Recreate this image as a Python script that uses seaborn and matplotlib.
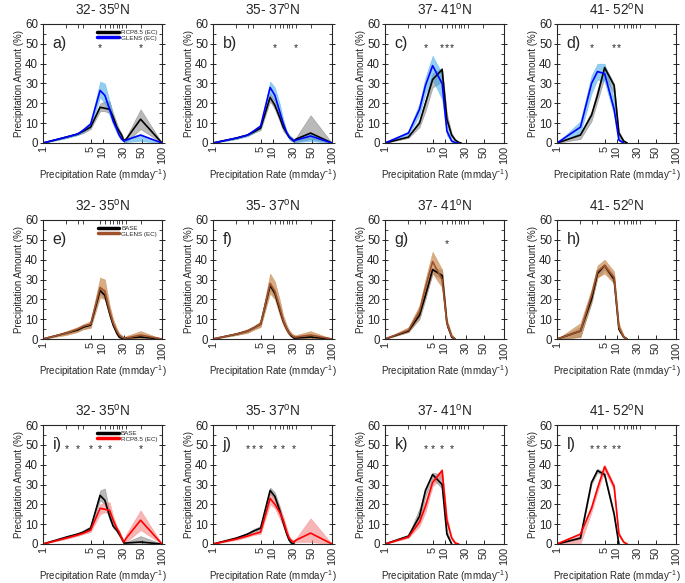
import numpy as np
import pandas as pd
import matplotlib
matplotlib.use("Agg")
import matplotlib.pyplot as plt
import seaborn as sns
from matplotlib.lines import Line2D
from matplotlib.ticker import FixedLocator, MultipleLocator

N = np.nan

# precipitation-rate bins (mm/day)
RATE = [1, 2, 3, 4, 5, 9, 11, 14, 17, 21, 24, 27, 30, 32, 48, 100]
# the x axis is not a true log axis: fraction of axis width for each bin
AXIS_POS = [0, 0.197, 0.29, 0.34, 0.40, 0.48, 0.52, 0.56, 0.59, 0.62, 0.64, 0.66, 0.68, 0.70, 0.82, 1.0]
XTICKS = [1, 5, 10, 30, 50, 100]
LATS = ["32- 35$^{\\rm o}$N", "35- 37$^{\\rm o}$N", "37- 41$^{\\rm o}$N", "41- 52$^{\\rm o}$N"]
LETTERS = list("abcdefghijkl")

# ==== row 1: RCP8.5 (EC) vs GLENS (EC) ====
a_blk    = [0, 3.0, 4.5, 6.0, 8.0, 18.0, 17.5, 17.0, 13.0, 8.0, 6.0, 4.0, 1.0, 2.0, 12.0, 0]
a_blk_lo = [0, 2.5, 4.0, 5.0, 7.0, 16.0, 16.0, 15.0, 11.0, 6.0, 4.0, 3.0, 0.5, 0.5, 7.0, 0]
a_blk_hi = [0, 3.5, 5.0, 7.0, 9.0, 20.0, 21.0, 21.0, 15.0, 10.0, 7.0, 5.0, 2.0, 3.0, 17.0, 0]
a_col    = [0, 3.0, 4.5, 6.5, 9.5, 26.5, 24.0, 17.0, 11.0, 7.0, 4.0, 2.0, 1.0, 1.5, 4.0, 0]
a_col_lo = [0, 2.5, 4.0, 5.5, 8.0, 23.0, 20.0, 14.0, 9.0, 5.0, 3.0, 1.5, 0.5, 0.5, 1.0, 0]
a_col_hi = [0, 3.5, 5.0, 7.5, 10.5, 31.0, 30.0, 21.0, 13.0, 8.5, 5.0, 3.0, 1.5, 2.5, 4.5, 0]

b_blk    = [0, 2.5, 4.0, 5.5, 7.5, 23.0, 19.0, 13.0, 8.0, 5.0, 3.0, 2.0, 1.0, 2.0, 5.0, 0]
b_blk_lo = [0, 2.0, 3.5, 5.0, 6.5, 21.0, 17.0, 11.0, 6.0, 4.0, 2.0, 1.0, 0.5, 0.5, 2.0, 0]
b_blk_hi = [0, 3.0, 4.5, 6.0, 8.5, 25.0, 21.0, 15.0, 10.0, 6.0, 4.0, 3.0, 2.0, 3.0, 14.0, 0]
b_col    = [0, 2.5, 4.0, 6.0, 8.5, 28.0, 24.0, 16.0, 10.0, 5.0, 3.0, 2.0, 1.0, 1.5, 3.5, 0]
b_col_lo = [0, 2.0, 3.5, 5.0, 7.5, 25.0, 21.0, 13.0, 8.0, 4.0, 2.0, 1.0, 0.5, 0.5, 1.0, 0]
b_col_hi = [0, 3.0, 4.5, 6.5, 9.5, 31.0, 28.0, 20.0, 12.0, 6.0, 4.0, 3.0, 1.5, 2.0, 5.0, 0]

c_blk    = [0, 3.0, 10.0, 20.0, 32.0, 37.0, 12.0, 4.0, 1.5, 0.3, 0, N, N, N, N, N]
c_blk_lo = [0, 2.5, 8.0, 16.0, 28.0, 31.0, 10.0, 3.0, 1.0, 0, 0, N, N, N, N, N]
c_blk_hi = [0, 3.5, 12.0, 22.0, 35.0, 38.0, 15.0, 5.0, 2.0, 0.5, 0, N, N, N, N, N]
c_col    = [0, 5.0, 17.0, 29.0, 39.0, 30.0, 6.0, 1.0, 0.2, 0, N, N, N, N, N, N]
c_col_lo = [0, 4.0, 14.0, 25.0, 32.0, 22.0, 4.0, 0.5, 0, 0, N, N, N, N, N, N]
c_col_hi = [0, 6.0, 20.0, 33.0, 44.0, 35.0, 9.0, 2.0, 0.5, 0, N, N, N, N, N, N]

d_blk    = [0, 4.0, 14.0, 24.0, 38.0, 29.0, 5.0, 1.0, 0, N, N, N, N, N, N, N]
d_blk_lo = [0, 2.0, 11.0, 21.0, 33.0, 25.0, 3.0, 0.5, 0, N, N, N, N, N, N, N]
d_blk_hi = [0, 5.0, 16.0, 27.0, 39.0, 30.0, 6.0, 1.5, 0, N, N, N, N, N, N, N]
d_col    = [0, 8.0, 30.0, 36.0, 35.0, 17.0, 1.5, 0, N, N, N, N, N, N, N, N]
d_col_lo = [0, 5.0, 25.0, 32.0, 31.0, 14.0, 1.0, 0, N, N, N, N, N, N, N, N]
d_col_hi = [0, 11.0, 34.0, 40.0, 40.0, 22.0, 3.0, 0, N, N, N, N, N, N, N, N]

# ==== row 2: BASE vs GLENS (EC) ====
e_blk    = [0, 3.0, 4.5, 6.0, 7.0, 24.5, 22.0, 13.0, 7.0, 3.0, 1.0, 0.5, 0, 0.5, 1.0, 0]
e_blk_lo = [0, 2.5, 4.0, 5.0, 6.0, 23.0, 20.0, 11.0, 6.0, 2.0, 0.5, 0, 0, 0, 0, 0]
e_blk_hi = [0, 3.5, 5.0, 7.0, 8.0, 26.0, 25.0, 15.0, 8.0, 4.0, 2.0, 1.0, 0.5, 1.0, 1.5, 0]
e_col    = [0, 3.0, 5.0, 6.5, 7.5, 26.0, 24.0, 14.0, 8.0, 4.0, 2.0, 1.0, 0.5, 0.5, 2.0, 0]
e_col_lo = [0, 2.0, 3.5, 5.0, 5.5, 21.0, 20.0, 11.0, 6.0, 2.5, 1.0, 0, 0, 0, 0, 0]
e_col_hi = [0, 4.0, 6.0, 7.5, 9.0, 31.0, 30.0, 17.0, 10.0, 5.5, 3.0, 2.0, 1.0, 1.5, 4.0, 0]

f_blk    = [0, 2.5, 4.0, 5.5, 7.5, 27.0, 23.0, 15.0, 9.0, 5.0, 3.0, 1.5, 0.5, 0.5, 1.0, 0]
f_blk_lo = [0, 2.0, 3.5, 5.0, 6.5, 25.0, 21.0, 13.0, 8.0, 4.0, 2.0, 1.0, 0, 0, 0.5, 0]
f_blk_hi = [0, 3.0, 4.5, 6.0, 8.5, 28.5, 25.0, 17.0, 10.0, 6.0, 4.0, 2.0, 1.0, 1.0, 1.5, 0]
f_col    = [0, 2.5, 4.0, 5.5, 7.5, 28.0, 24.0, 16.0, 9.5, 5.0, 3.0, 2.0, 1.0, 1.0, 2.0, 0]
f_col_lo = [0, 2.0, 3.0, 4.5, 6.0, 23.0, 20.0, 12.0, 7.0, 3.5, 2.0, 1.0, 0, 0, 0.5, 0]
f_col_hi = [0, 3.0, 5.0, 6.5, 9.0, 33.0, 29.0, 20.0, 12.0, 7.0, 4.5, 3.0, 2.0, 2.0, 4.0, 0]

g_blk    = [0, 4.0, 12.0, 22.0, 35.0, 32.0, 8.0, 1.0, 0, N, N, N, N, N, N, N]
g_blk_lo = [0, 3.5, 10.0, 20.0, 33.0, 30.0, 6.0, 0.5, 0, N, N, N, N, N, N, N]
g_blk_hi = [0, 4.5, 14.0, 25.0, 36.0, 35.0, 9.0, 1.5, 0, N, N, N, N, N, N, N]
g_col    = [0, 4.5, 14.0, 26.0, 39.0, 30.0, 8.0, 1.5, 0, N, N, N, N, N, N, N]
g_col_lo = [0, 3.5, 11.0, 22.0, 33.0, 26.0, 6.0, 1.0, 0, N, N, N, N, N, N, N]
g_col_hi = [0, 6.0, 17.0, 30.0, 44.0, 35.0, 10.0, 2.5, 0, N, N, N, N, N, N, N]

h_blk    = [0, 4.0, 20.0, 33.0, 37.0, 30.0, 5.0, 1.0, 0, N, N, N, N, N, N, N]
h_blk_lo = [0, 1.0, 18.0, 31.0, 35.0, 28.0, 4.0, 0.5, 0, N, N, N, N, N, N, N]
h_blk_hi = [0, 6.0, 22.0, 35.0, 38.0, 32.0, 6.0, 1.5, 0, N, N, N, N, N, N, N]
h_col    = [0, 4.0, 22.0, 34.0, 37.0, 31.0, 6.0, 1.0, 0, N, N, N, N, N, N, N]
h_col_lo = [0, 1.0, 19.0, 31.0, 33.0, 28.0, 4.0, 0.5, 0, N, N, N, N, N, N, N]
h_col_hi = [0, 8.0, 25.0, 37.0, 40.0, 34.0, 8.0, 2.0, 0, N, N, N, N, N, N, N]

# ==== row 3: BASE vs RCP8.5 (EC) ====
i_blk    = [0, 3.5, 5.0, 6.0, 8.0, 24.5, 22.0, 14.0, 9.0, 7.0, 5.0, 3.0, 0.5, 0.5, 1.0, 0]
i_blk_lo = [0, 3.0, 4.5, 5.5, 7.0, 22.0, 20.0, 12.0, 8.0, 6.0, 4.0, 2.0, 0, 0, 0, 0]
i_blk_hi = [0, 4.0, 5.5, 7.0, 9.0, 27.0, 28.0, 16.0, 10.0, 8.0, 6.0, 4.0, 1.0, 1.0, 4.0, 0]
i_col    = [0, 3.0, 4.5, 5.5, 7.0, 18.0, 17.5, 17.0, 12.0, 8.0, 6.0, 3.0, 1.0, 3.0, 12.0, 0]
i_col_lo = [0, 2.5, 4.0, 5.0, 6.0, 15.0, 16.0, 15.0, 10.0, 7.0, 5.0, 2.0, 0.5, 1.0, 7.0, 0]
i_col_hi = [0, 3.5, 5.0, 6.5, 8.0, 20.0, 21.0, 21.0, 14.0, 9.0, 7.0, 4.0, 2.0, 5.0, 17.0, 0]

j_blk    = [0, 3.0, 5.0, 6.5, 8.0, 27.0, 24.0, 17.0, 11.0, 5.0, 2.0, 0.5, 0, N, N, N]
j_blk_lo = [0, 2.5, 4.5, 6.0, 7.0, 25.5, 22.0, 15.0, 9.0, 4.0, 1.0, 0, 0, N, N, N]
j_blk_hi = [0, 3.5, 5.5, 7.5, 9.0, 28.5, 26.0, 19.0, 12.0, 6.0, 3.0, 1.0, 0.5, N, N, N]
j_col    = [0, 2.5, 4.0, 5.0, 6.0, 23.0, 20.0, 16.0, 12.0, 6.0, 3.0, 1.5, 1.0, 2.0, 5.5, 0]
j_col_lo = [0, 2.0, 3.5, 4.5, 5.0, 20.0, 18.0, 13.0, 9.0, 4.0, 2.0, 1.0, 0.5, 1.0, 1.0, 0]
j_col_hi = [0, 3.0, 4.5, 5.5, 7.0, 26.0, 23.0, 19.0, 14.0, 8.0, 4.0, 2.5, 2.0, 3.0, 13.0, 0]

k_blk    = [0, 4.0, 14.0, 27.0, 35.0, 30.0, 5.0, 0, N, N, N, N, N, N, N, N]
k_blk_lo = [0, 3.5, 12.0, 24.0, 33.0, 28.0, 4.0, 0, N, N, N, N, N, N, N, N]
k_blk_hi = [0, 4.5, 18.0, 28.0, 36.0, 35.0, 7.0, 0, N, N, N, N, N, N, N, N]
k_col    = [0, 3.5, 11.0, 19.0, 31.0, 37.0, 12.0, 3.0, 0.5, 0, N, N, N, N, N, N]
k_col_lo = [0, 3.0, 9.0, 16.0, 29.0, 34.0, 10.0, 2.0, 0, 0, N, N, N, N, N, N]
k_col_hi = [0, 4.0, 13.0, 22.0, 33.0, 38.0, 14.0, 4.0, 1.0, 0, N, N, N, N, N, N]

l_blk    = [0, 3.0, 31.0, 37.0, 35.0, 15.0, 0, N, N, N, N, N, N, N, N, N]
l_blk_lo = [0, 2.5, 30.0, 36.0, 34.0, 14.0, 0, N, N, N, N, N, N, N, N, N]
l_blk_hi = [0, 3.5, 32.0, 38.0, 36.0, 16.0, 0, N, N, N, N, N, N, N, N, N]
l_col    = [0, 5.0, 18.0, 28.0, 39.0, 29.0, 5.0, 1.0, 0, N, N, N, N, N, N, N]
l_col_lo = [0, 0.0, 16.0, 26.0, 37.0, 27.0, 4.0, 0.5, 0, N, N, N, N, N, N, N]
l_col_hi = [0, 5.5, 20.0, 30.0, 40.0, 30.0, 6.0, 1.5, 0, N, N, N, N, N, N, N]

# significance asterisks (bin rate)
a_stars = [9, 48]
b_stars = [11, 32]
c_stars = [4, 9, 11, 14]
d_stars = [3, 9, 11]
e_stars = []
f_stars = []
g_stars = [11]
h_stars = []
i_stars = [2, 3, 5, 9, 14, 48]
j_stars = [3, 4, 5, 11, 17, 30]
k_stars = [4, 5, 9, 14]
l_stars = [3, 4, 5, 9, 11]

PANELS = [
    (a_blk, a_blk_lo, a_blk_hi, a_col, a_col_lo, a_col_hi, a_stars),
    (b_blk, b_blk_lo, b_blk_hi, b_col, b_col_lo, b_col_hi, b_stars),
    (c_blk, c_blk_lo, c_blk_hi, c_col, c_col_lo, c_col_hi, c_stars),
    (d_blk, d_blk_lo, d_blk_hi, d_col, d_col_lo, d_col_hi, d_stars),
    (e_blk, e_blk_lo, e_blk_hi, e_col, e_col_lo, e_col_hi, e_stars),
    (f_blk, f_blk_lo, f_blk_hi, f_col, f_col_lo, f_col_hi, f_stars),
    (g_blk, g_blk_lo, g_blk_hi, g_col, g_col_lo, g_col_hi, g_stars),
    (h_blk, h_blk_lo, h_blk_hi, h_col, h_col_lo, h_col_hi, h_stars),
    (i_blk, i_blk_lo, i_blk_hi, i_col, i_col_lo, i_col_hi, i_stars),
    (j_blk, j_blk_lo, j_blk_hi, j_col, j_col_lo, j_col_hi, j_stars),
    (k_blk, k_blk_lo, k_blk_hi, k_col, k_col_lo, k_col_hi, k_stars),
    (l_blk, l_blk_lo, l_blk_hi, l_col, l_col_lo, l_col_hi, l_stars),
]

# per row: (black label, colored label, line color, band color, band alpha)
ROWS = [
    ("RCP8.5 (EC)", "GLENS (EC)", "#0000ff", "#3aa6e8", 0.55),
    ("BASE", "GLENS (EC)", "#a0522d", "#c98a4f", 0.70),
    ("BASE", "RCP8.5 (EC)", "#ff0000", "#f27a7a", 0.55),
]

sns.set_style("ticks")
plt.rcParams["font.family"] = ["Liberation Sans", "DejaVu Sans"]
plt.rcParams["mathtext.fontset"] = "custom"
plt.rcParams["mathtext.rm"] = "Liberation Sans"
plt.rcParams["mathtext.it"] = "Liberation Sans:italic"
plt.rcParams["axes.linewidth"] = 0.8

LOGR = np.log10(RATE)


def fwd(x):
    x = np.clip(np.asarray(x, dtype=float), 1e-6, None)
    return np.interp(np.log10(x), LOGR, AXIS_POS)


def inv(p):
    return 10 ** np.interp(np.asarray(p, dtype=float), AXIS_POS, LOGR)


fig = plt.figure(figsize=(6.85, 5.83), dpi=100)
lefts = [43, 213, 385, 557]
bottoms = [143, 339, 544]
W, H = 685.0, 583.0

for n, (blk, blk_lo, blk_hi, col, col_lo, col_hi, stars) in enumerate(PANELS):
    r, c = divmod(n, 4)
    lab_blk, lab_col, line_col, band_col, band_a = ROWS[r]
    ax = fig.add_axes([lefts[c] / W, 1 - bottoms[r] / H, 119 / W, 119 / H])
    ax.set_xscale("function", functions=(fwd, inv))

    ax.fill_between(RATE, blk_lo, blk_hi, color="gray", alpha=0.55, lw=0.4, edgecolor="dimgray")
    ax.fill_between(RATE, col_lo, col_hi, color=band_col, alpha=band_a, lw=0.4, edgecolor=band_col)

    df = pd.DataFrame({
        "rate": RATE + RATE,
        "amount": list(blk) + list(col),
        "series": ["blk"] * len(RATE) + ["col"] * len(RATE),
    }).dropna()
    sns.lineplot(data=df, x="rate", y="amount", hue="series", estimator=None,
                 palette={"blk": "black", "col": line_col}, linewidth=1.2,
                 legend=False, ax=ax)

    for s in stars:
        ax.text(s, 48, "*", ha="center", va="center", fontsize=7.5)

    ax.set_xlim(1, 100)
    ax.set_ylim(0, 60)
    ax.set_xticks(XTICKS)
    ax.set_xticklabels([str(t) for t in XTICKS], rotation=90, fontsize=7.8)
    ax.xaxis.set_minor_locator(FixedLocator(RATE[1:-1]))
    ax.yaxis.set_major_locator(MultipleLocator(10))
    ax.yaxis.set_minor_locator(MultipleLocator(5))
    ax.tick_params(axis="y", which="major", direction="inout", length=4, width=0.7,
                   labelsize=8.3, right=True, pad=1.5)
    ax.tick_params(axis="y", which="minor", direction="in", length=2, width=0.6, right=True)
    ax.tick_params(axis="x", which="major", direction="in", length=3, width=0.7,
                   top=False, pad=2)
    ax.tick_params(axis="x", which="minor", direction="in", length=3, width=0.6,
                   top=True, bottom=False)

    ax.set_xlabel("Precipitation Rate (mmday$^{-1}$)", fontsize=7, labelpad=2.5)
    ax.set_ylabel("Precipitation Amount (%)", fontsize=7, labelpad=1)
    ax.set_title(LATS[c], fontsize=9.8, pad=7)
    ax.text(0.08, 0.84, LETTERS[n] + ")", transform=ax.transAxes,
            ha="left", va="center", fontsize=11.5)

    if c == 0:
        handles = [Line2D([], [], color="black", lw=2.5),
                   Line2D([], [], color=line_col, lw=2.5)]
        ax.legend(handles, [lab_blk, lab_col], loc="upper right",
                  bbox_to_anchor=(0.99, 0.985), frameon=False, fontsize=4.5,
                  handlelength=3.5, handletextpad=0.3, labelspacing=0.05,
                  borderpad=0.1)

fig.savefig("out.png", dpi=100)
